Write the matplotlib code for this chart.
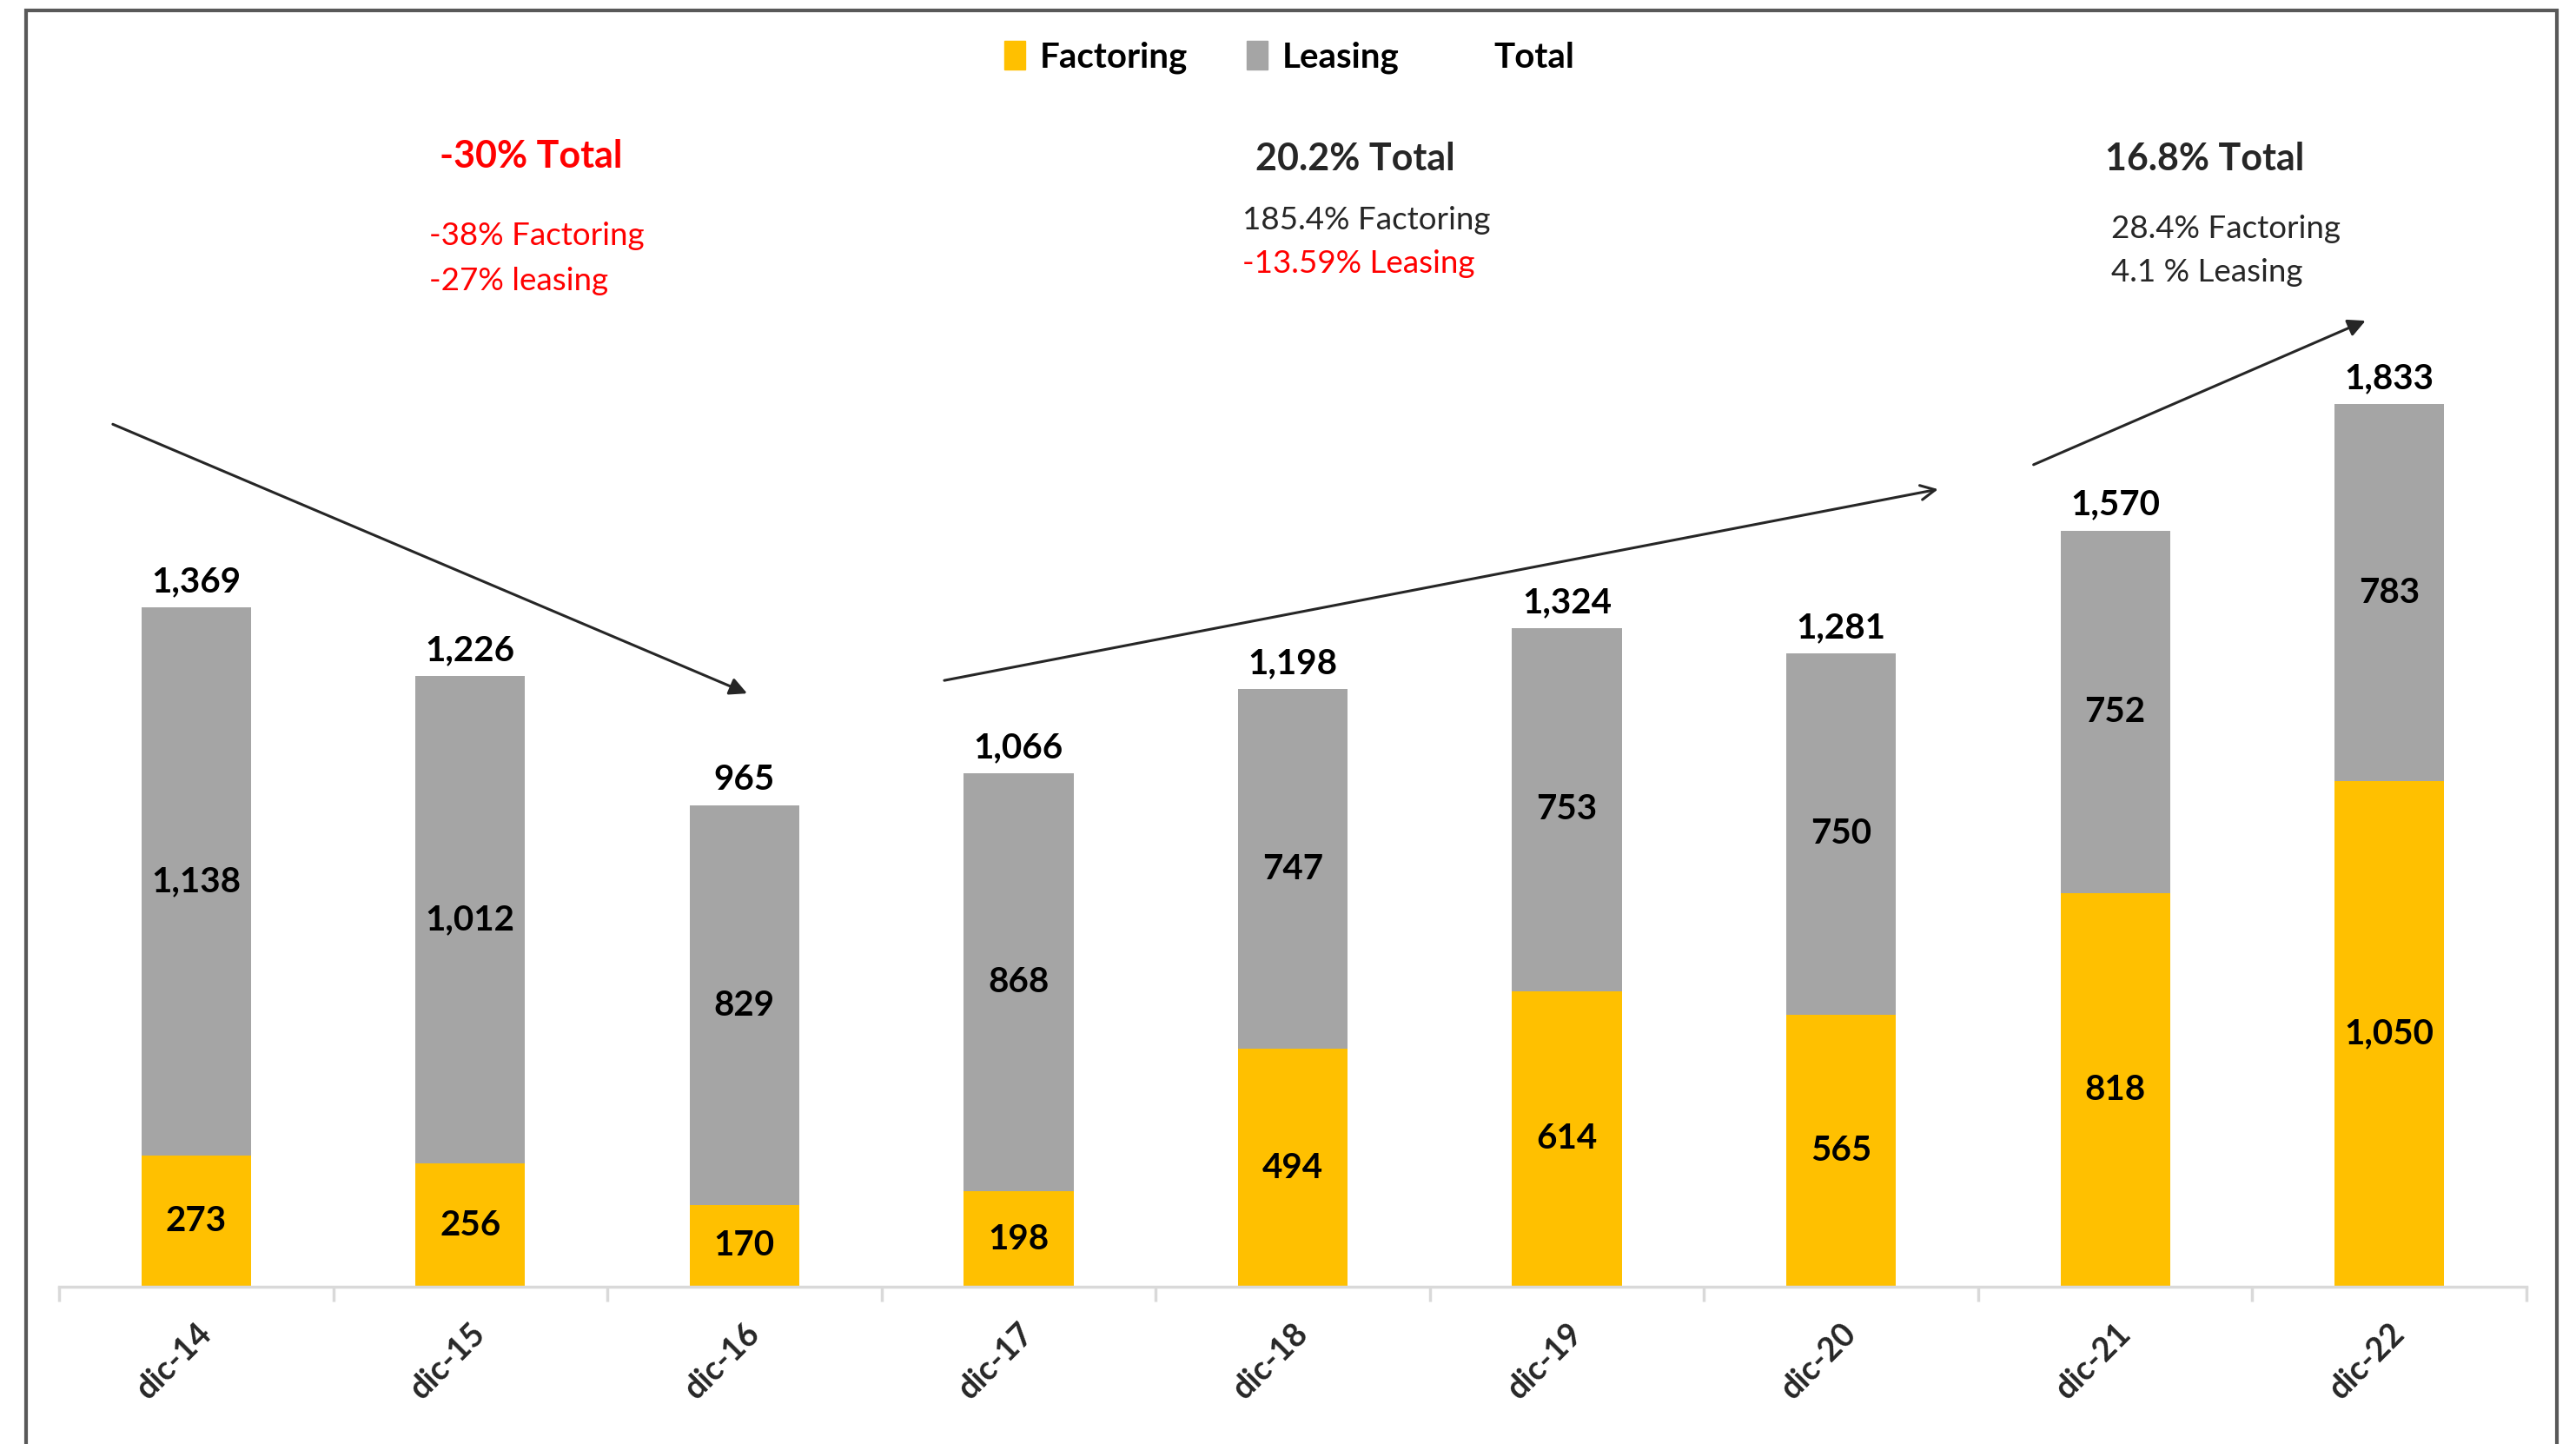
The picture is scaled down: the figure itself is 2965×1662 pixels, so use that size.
import matplotlib.pyplot as plt
from matplotlib.patches import Patch, Rectangle
from matplotlib.lines import Line2D
import numpy as np

plt.rcParams["font.family"] = ["Lato", "DejaVu Sans"]

periods = ["dic-14", "dic-15", "dic-16", "dic-17", "dic-18",
           "dic-19", "dic-20", "dic-21", "dic-22"]
factoring = [273, 256, 170, 198, 494, 614, 565, 818, 1050]
leasing = [1138, 1012, 829, 868, 747, 753, 750, 752, 783]
totals = [1369, 1226, 965, 1066, 1198, 1324, 1281, 1570, 1833]

yellow = "#FFC000"
grey = "#A5A5A5"
red = "#FF0000"
dark = "#262626"

W, H = 2965, 1662
fig = plt.figure(figsize=(W / 100, H / 100), dpi=100)
ax = fig.add_axes([68 / W, 181 / H, 2840 / W, 1381 / H])

x = np.arange(len(periods))
width = 0.4
ax.bar(x, factoring, width, color=yellow, label="Factoring")
ax.bar(x, leasing, width, bottom=factoring, color=grey, label="Leasing")

for i in range(len(periods)):
    f, l = factoring[i], leasing[i]
    ax.text(x[i], f / 2, "{:,}".format(f), ha="center", va="center",
            fontsize=29, fontweight="bold", color="black")
    ax.text(x[i], f + l / 2, "{:,}".format(l), ha="center", va="center",
            fontsize=29, fontweight="bold", color="black")
    ax.annotate("{:,}".format(totals[i]), (x[i], f + l),
                xytext=(0, 8), textcoords="offset points",
                ha="center", va="bottom", fontsize=29,
                fontweight="bold", color="black")

ax.set_xlim(-0.5, len(periods) - 0.5)
ax.set_ylim(0, 1381 / (1016 / 1833))
ax.set_yticks([])
for side in ["left", "right", "top"]:
    ax.spines[side].set_visible(False)
ax.spines["bottom"].set_color("#D9D9D9")
ax.spines["bottom"].set_linewidth(2.5)
ax.set_xticks(x)
ax.set_xticklabels(periods, rotation=45, ha="right",
                   rotation_mode="anchor", fontsize=27,
                   fontweight="bold", color=dark)
ax.tick_params(axis="x", which="major", length=0, pad=26)
ax.set_xticks(np.arange(-0.5, len(periods), 1), minor=True)
ax.tick_params(axis="x", which="minor", length=12, width=2.5,
               color="#D9D9D9")

# trend arrows
arrow = dict(color="#262626", lw=2.2, shrinkA=0, shrinkB=0)
ax.annotate("", xy=(2.01, 1232), xytext=(-0.304, 1791),
            arrowprops=dict(arrowstyle="-|>", mutation_scale=30, **arrow))
ax.annotate("", xy=(6.354, 1656), xytext=(2.729, 1259),
            arrowprops=dict(arrowstyle="->", mutation_scale=30, **arrow))
ax.annotate("", xy=(7.913, 2006), xytext=(6.702, 1707),
            arrowprops=dict(arrowstyle="-|>", mutation_scale=30, **arrow))

# growth notes
def note(px, py, s, color, size, weight="normal", ha="left"):
    fig.text(px / W, 1 - py / H, s, color=color, fontsize=size,
             fontweight=weight, ha=ha, va="center")

note(611, 180, "-30% Total", red, 31, "bold", "center")
note(494, 272, "-38% Factoring", red, 26.5)
note(494, 323, "-27% leasing", red, 26.5)
note(1560, 183, "20.2% Total", dark, 31, "bold", "center")
note(1430, 253, "185.4% Factoring", dark, 26.5)
note(1430, 304, "-13.59% Leasing", red, 26.5)
note(2538, 183, "16.8% Total", dark, 31, "bold", "center")
note(2430, 263, "28.4% Factoring", dark, 26.5)
note(2430, 314, "4.1 % Leasing", dark, 26.5)

handles = [Patch(color=yellow), Patch(color=grey),
           Line2D([], [], color="none")]
fig.legend(handles, ["Factoring", "Leasing", "Total"], ncol=3,
           loc="center", bbox_to_anchor=(1484 / W, 1 - 66 / H),
           frameon=False, handlelength=0.6, handleheight=0.9,
           handletextpad=0.4, columnspacing=1.7,
           prop={"size": 29, "weight": "bold"})

fig.patches.append(Rectangle((30 / W, -0.05), 2913 / W, 1.05 - 12 / H,
                             transform=fig.transFigure, fill=False,
                             edgecolor="#595959", linewidth=3))

fig.savefig("out.png", dpi=100, facecolor="white")
